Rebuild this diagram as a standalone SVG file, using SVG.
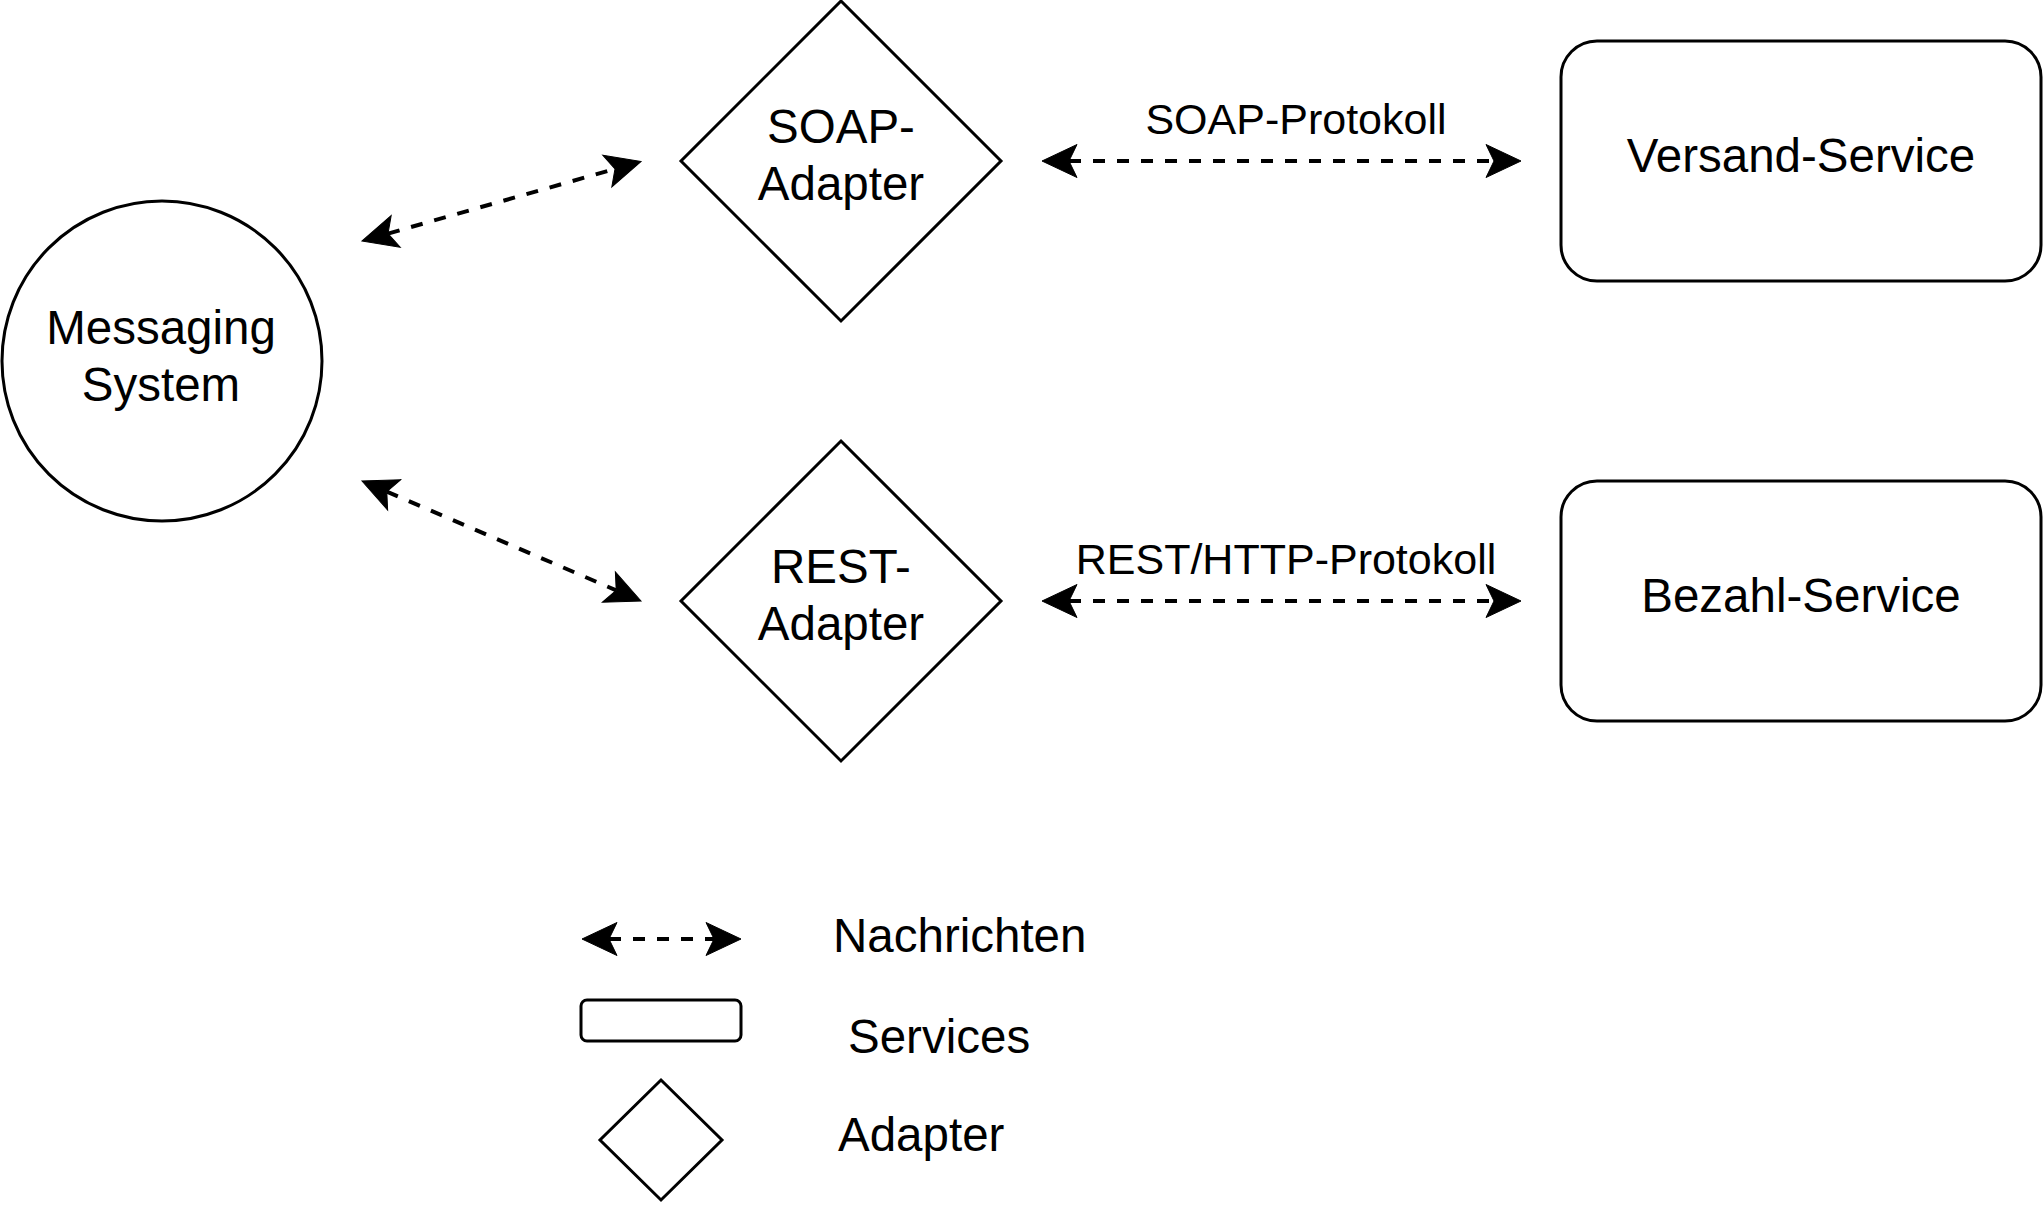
<svg xmlns="http://www.w3.org/2000/svg" width="2044" height="1208" viewBox="0 0 2044 1208">
<style>
.shape{fill:#fff;stroke:#000;stroke-width:3}
.t{font-family:"Liberation Sans",Arial,Helvetica,sans-serif;font-size:47.5px;fill:#000}
.m{text-anchor:middle}
.lbl{font-family:"Liberation Sans",Arial,Helvetica,sans-serif;font-size:43px;fill:#000;text-anchor:middle}
.con{fill:none;stroke:#000;stroke-width:4;stroke-dasharray:12 12;marker-start:url(#ah);marker-end:url(#ah)}
</style>
<defs>
<marker id="ah" markerUnits="userSpaceOnUse" orient="auto-start-reverse" refX="0" refY="0" markerWidth="80" markerHeight="80" viewBox="-40 -40 80 80" overflow="visible">
<path d="M27,0 L-8,-16.5 L0,0 L-8,16.5 Z" fill="#000" stroke="#000" stroke-width="1"/>
</marker>
</defs>
<rect width="2044" height="1208" fill="#fff"/>
<g id="connectors">
<line class="con" x1="388" y1="233.6" x2="615" y2="168.9"/>
<line class="con" x1="386.8" y1="491.7" x2="616.2" y2="590.3"/>
<line class="con" x1="1069" y1="161" x2="1494" y2="161"/>
<line class="con" x1="1069" y1="601" x2="1494" y2="601"/>
<text class="lbl" x="1296" y="134">SOAP-Protokoll</text>
<text class="lbl" x="1286" y="574">REST/HTTP-Protokoll</text>
</g>
<g id="messaging-system">
<circle class="shape" cx="162" cy="361" r="160"/>
<text class="t m" x="161" y="344">Messaging</text>
<text class="t m" x="161" y="401">System</text>
</g>
<g id="soap-adapter">
<polygon class="shape" points="841,1 1001,161 841,321 681,161"/>
<text class="t m" x="841" y="143">SOAP-</text>
<text class="t m" x="841" y="200">Adapter</text>
</g>
<g id="rest-adapter">
<polygon class="shape" points="841,441 1001,601 841,761 681,601"/>
<text class="t m" x="841" y="583">REST-</text>
<text class="t m" x="841" y="640">Adapter</text>
</g>
<g id="versand-service">
<rect class="shape" x="1561" y="41" width="480" height="240" rx="36" ry="36"/>
<text class="t m" x="1801" y="172">Versand-Service</text>
</g>
<g id="bezahl-service">
<rect class="shape" x="1561" y="481" width="480" height="240" rx="36" ry="36"/>
<text class="t m" x="1801" y="612">Bezahl-Service</text>
</g>
<g id="legend">
<line class="con" x1="609" y1="939" x2="714" y2="939"/>
<text class="t" x="833" y="952">Nachrichten</text>
<rect class="shape" x="581" y="1000" width="160" height="41" rx="6" ry="6"/>
<text class="t" x="848" y="1053">Services</text>
<polygon class="shape" points="661,1080 722,1140 661,1200 600,1140"/>
<text class="t" x="838" y="1151">Adapter</text>
</g>
</svg>
